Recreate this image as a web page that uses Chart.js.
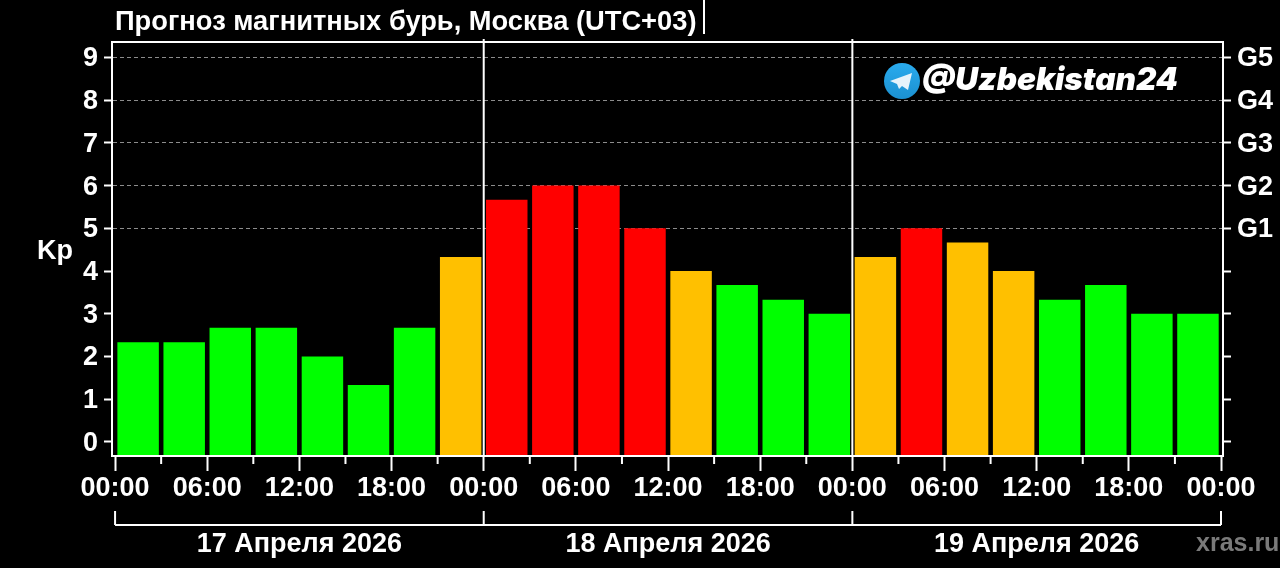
<!DOCTYPE html>
<html>
<head>
<meta charset="utf-8">
<title>Прогноз магнитных бурь</title>
<script src="https://cdn.jsdelivr.net/npm/chart.js@4"></script>
<style>
  body { margin: 0; background: #000; }
  canvas { display: block; }
</style>
</head>
<body>
<canvas id="kpChart" width="1280" height="568"></canvas>
<script>
const chartTitle = "Прогноз магнитных бурь, Москва (UTC+03)";
const slotHours = [1.5, 4.5, 7.5, 10.5, 13.5, 16.5, 19.5, 22.5, 25.5, 28.5, 31.5, 34.5, 37.5, 40.5, 43.5, 46.5, 49.5, 52.5, 55.5, 58.5, 61.5, 64.5, 67.5, 70.5];
const kpValues = [2.33, 2.33, 2.67, 2.67, 2, 1.33, 2.67, 4.33, 5.67, 6, 6, 5, 4, 3.67, 3.33, 3, 4.33, 5, 4.67, 4, 3.33, 3.67, 3, 3];
const majorHours = [0, 6, 12, 18, 24, 30, 36, 42, 48, 54, 60, 66, 72];
const minorHours = [3, 9, 15, 21, 27, 33, 39, 45, 51, 57, 63, 69];
const hourLabels = ["00:00", "06:00", "12:00", "18:00", "00:00", "06:00", "12:00", "18:00", "00:00", "06:00", "12:00", "18:00", "00:00"];
const dayEdges = [0, 24, 48, 72];
const dayLabels = ["17 Апреля 2026", "18 Апреля 2026", "19 Апреля 2026"];
const kpTicks = [0, 1, 2, 3, 4, 5, 6, 7, 8, 9];
const gLabels = { 5: "G1", 6: "G2", 7: "G3", 8: "G4", 9: "G5" };

const FONT = '"Liberation Sans", Arial, sans-serif';
const yMin = -0.33;
const yMax = 9.36;

function barColor(v) {
  if (v >= 5) return "#ff0000";
  if (v >= 4) return "#ffc000";
  return "#00ff00";
}

// frame, day dividers, short ticks, date brackets and loose text
const decorations = {
  id: "decorations",
  afterDatasetsDraw(chart) {
    const { ctx, chartArea: area, scales } = chart;
    const x = scales.x;
    ctx.save();
    ctx.strokeStyle = "#ffffff";
    ctx.lineWidth = 2;
    ctx.strokeRect(area.left, area.top, area.right - area.left, area.bottom - area.top);

    ctx.beginPath();
    dayEdges.slice(1, -1).forEach((h) => {
      ctx.moveTo(x.getPixelForValue(h), area.top - 3);
      ctx.lineTo(x.getPixelForValue(h), area.bottom);
    });
    minorHours.forEach((h) => {
      ctx.moveTo(x.getPixelForValue(h), area.bottom);
      ctx.lineTo(x.getPixelForValue(h), area.bottom + 8);
    });
    // bracket under the hour labels
    const first = x.getPixelForValue(dayEdges[0]);
    const last = x.getPixelForValue(dayEdges[dayEdges.length - 1]);
    ctx.moveTo(first, 525);
    ctx.lineTo(last, 525);
    dayEdges.forEach((h) => {
      ctx.moveTo(x.getPixelForValue(h), 511);
      ctx.lineTo(x.getPixelForValue(h), 525);
    });
    // small rule after the title
    ctx.moveTo(704, 0);
    ctx.lineTo(704, 34);
    ctx.stroke();

    ctx.fillStyle = "#ffffff";
    ctx.textBaseline = "middle";
    ctx.textAlign = "center";
    ctx.font = "bold 27px " + FONT;
    dayLabels.forEach((label, i) => {
      const mid = (x.getPixelForValue(dayEdges[i]) + x.getPixelForValue(dayEdges[i + 1])) / 2;
      ctx.fillText(label, mid, 544.5);
    });
    ctx.fillText("Kp", 55, 252);

    ctx.textAlign = "left";
    ctx.font = "bold 27.3px " + FONT;
    ctx.fillText(chartTitle, 115, 22);

    ctx.font = "bold 25px " + FONT;
    ctx.fillStyle = "#7a7a7a";
    ctx.fillText("xras.ru", 1196, 544);

    // channel badge
    const badge = ctx.createLinearGradient(0, 63, 0, 99);
    badge.addColorStop(0, "#2aabee");
    badge.addColorStop(1, "#1b90d0");
    ctx.beginPath();
    ctx.arc(902, 81, 18, 0, Math.PI * 2);
    ctx.fillStyle = badge;
    ctx.fill();
    ctx.beginPath();
    ctx.moveTo(890, 81);
    ctx.lineTo(912, 73);
    ctx.lineTo(908, 90);
    ctx.lineTo(902, 86);
    ctx.lineTo(899, 89);
    ctx.lineTo(897, 84);
    ctx.closePath();
    ctx.fillStyle = "#e6f3fb";
    ctx.fill();
    ctx.fillStyle = "#ffffff";
    ctx.font = "italic 900 31.5px Inter, sans-serif";
    ctx.fillText("@Uzbekistan24", 922, 81);
    ctx.restore();
  },
};

new Chart(document.getElementById("kpChart"), {
  type: "bar",
  data: {
    datasets: [
      {
        data: slotHours.map((h, i) => ({ x: h, y: kpValues[i] })),
        backgroundColor: kpValues.map(barColor),
        base: yMin,
        borderWidth: 0,
        barPercentage: 0.9,
        categoryPercentage: 1,
      },
    ],
  },
  options: {
    responsive: false,
    animation: false,
    layout: { padding: { top: 42 } },
    plugins: { legend: { display: false }, tooltip: { enabled: false } },
    scales: {
      x: {
        type: "linear",
        offset: false,
        min: -0.2,
        max: 72.13,
        afterBuildTicks: (scale) => {
          scale.ticks = majorHours.map((h) => ({ value: h }));
        },
        afterFit: (scale) => {
          scale.height = 112;
        },
        ticks: {
          color: "#ffffff",
          padding: 1,
          maxRotation: 0,
          autoSkip: false,
          font: { family: FONT, weight: "bold", size: 27 },
          callback: (v) => hourLabels[majorHours.indexOf(v)],
        },
        grid: { offset: false, drawOnChartArea: false, tickColor: "#ffffff", tickLength: 15, tickWidth: 2 },
        border: { color: "#ffffff", width: 2 },
      },
      y: {
        min: yMin,
        max: yMax,
        afterBuildTicks: (scale) => {
          scale.ticks = kpTicks.map((v) => ({ value: v }));
        },
        afterFit: (scale) => {
          scale.width = 112;
        },
        ticks: {
          color: "#ffffff",
          padding: 6,
          labelOffset: 1.5,
          font: { family: FONT, weight: "bold", size: 27 },
        },
        grid: {
          color: (c) => (c.tick.value >= 5 ? "#8c8c8c" : "transparent"),
          tickColor: "#ffffff",
          tickLength: 8,
          tickWidth: 2,
          tickBorderDash: [],
          lineWidth: 1,
        },
        border: { color: "#ffffff", width: 2, dash: [4, 3] },
      },
      y2: {
        position: "right",
        min: yMin,
        max: yMax,
        afterBuildTicks: (scale) => {
          scale.ticks = kpTicks.map((v) => ({ value: v }));
        },
        afterFit: (scale) => {
          scale.width = 57;
        },
        ticks: {
          color: "#ffffff",
          padding: 6,
          labelOffset: 1.5,
          font: { family: FONT, weight: "bold", size: 27 },
          callback: (v) => gLabels[v] || "",
        },
        grid: { drawOnChartArea: false, tickColor: "#ffffff", tickLength: 8, tickWidth: 2 },
        border: { color: "#ffffff", width: 2 },
      },
    },
  },
  plugins: [decorations],
});
</script>
</body>
</html>
